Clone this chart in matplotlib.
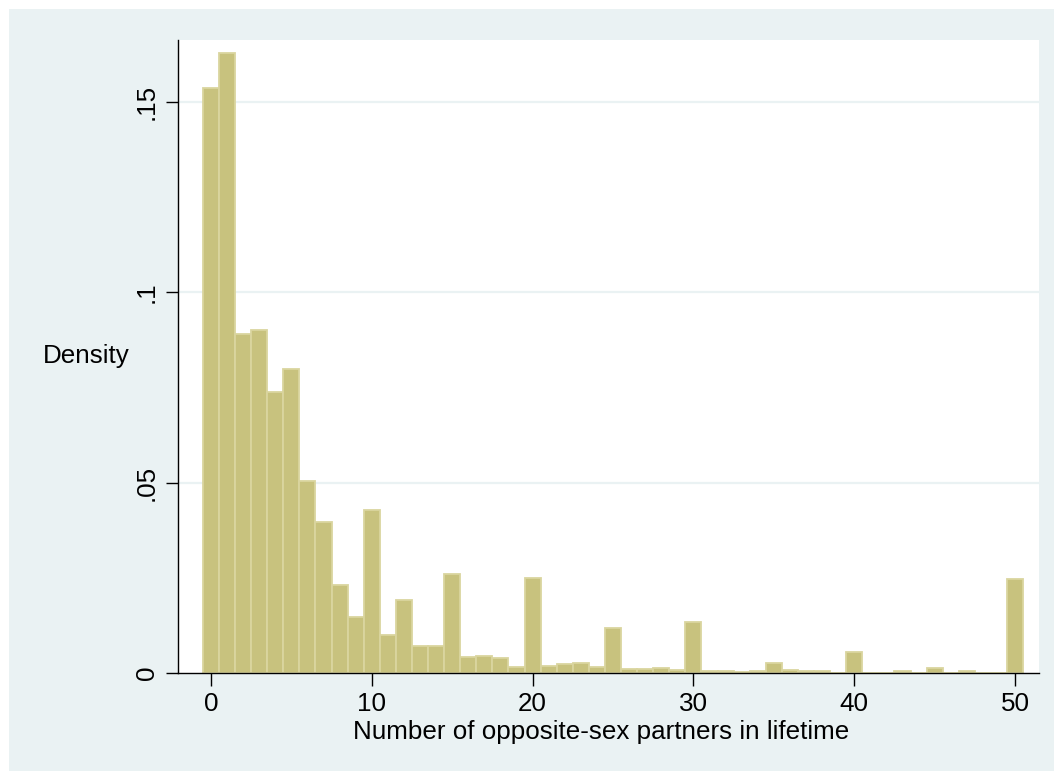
import numpy as np
import matplotlib
matplotlib.use("Agg")
import matplotlib.pyplot as plt
from matplotlib.patches import Rectangle

# bin centres (number of partners, one bin per integer)
partners = list(range(0, 51))
# density per bin
density = [0.1537, 0.1628, 0.0891, 0.0900, 0.0738, 0.0799, 0.0503, 0.0397, 0.0231, 0.0147,
           0.0428, 0.0100, 0.0192, 0.0072, 0.0072, 0.0259, 0.0043, 0.0044, 0.0039, 0.0017,
           0.0250, 0.0019, 0.0024, 0.0025, 0.0017, 0.0118, 0.0011, 0.0011, 0.0014, 0.0009,
           0.0134, 0.0004, 0.0004, 0.0002, 0.0004, 0.0025, 0.0007, 0.0004, 0.0004, 0.0001,
           0.0056, 0.0001, 0.0001, 0.0004, 0.0001, 0.0014, 0.0001, 0.0004, 0.0001, 0.0001,
           0.0247]
xticks = [0, 10, 20, 30, 40, 50]
yticks = [0, 0.05, 0.1, 0.15]
ylabels = ["0", ".05", ".1", ".15"]

plt.rcParams['font.family'] = ['Liberation Sans', 'DejaVu Sans']
fs = 18.7

bg = '#EAF2F3'
fig = plt.figure(figsize=(10.54, 7.71), dpi=100, facecolor='white')
# stata style outer region, kept behind the axes
fig.add_artist(Rectangle((9 / 1054, 0), 1 - 9 / 1054, 1 - 9 / 771,
                         transform=fig.transFigure, facecolor=bg, edgecolor='none', zorder=-10))

ax = fig.add_axes([178 / 1054, 98 / 771, (1039 - 178) / 1054, (673 - 40) / 771])
ax.set_facecolor('white')

ax.bar(partners, density, width=1.0, color='#C8C27E', edgecolor='#DAD59F',
       linewidth=1.3, zorder=2)

ax.set_xlim(-2.05, 51.49)
ax.set_ylim(0, 0.1662)
ax.set_xticks(xticks)
ax.set_yticks(yticks)
ax.set_yticklabels(ylabels, rotation=90, va='center')
ax.tick_params(axis='both', labelsize=fs, length=9, width=1, color='black', pad=5)

for y in yticks[1:]:
    ax.axhline(y, color=bg, linewidth=1.6, zorder=1)

for s in ['top', 'right']:
    ax.spines[s].set_visible(False)
for s in ['left', 'bottom']:
    ax.spines[s].set_linewidth(1)
    ax.spines[s].set_color('black')

ax.set_xlabel("Number of opposite-sex partners in lifetime", fontsize=fs)
ax.xaxis.set_label_coords(0.491, -0.074)
ax.set_ylabel("Density", fontsize=fs, rotation=0, va='center', ha='center')
ax.yaxis.set_label_coords(-0.106, 0.5)

fig.savefig("out.png", dpi=100, facecolor=fig.get_facecolor())
